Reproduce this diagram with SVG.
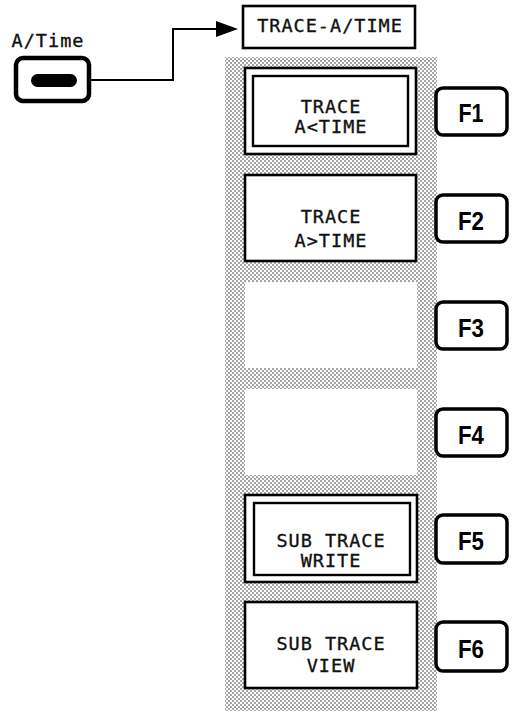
<svg xmlns="http://www.w3.org/2000/svg" width="515" height="721" viewBox="0 0 515 721">
<defs>
<pattern id="dots" width="4" height="4" patternUnits="userSpaceOnUse">
<rect width="4" height="4" fill="#fff"/>
<circle cx="1" cy="1" r="0.8" fill="#333"/>
<circle cx="3" cy="3" r="0.8" fill="#333"/>
</pattern>
<marker id="arr" markerUnits="userSpaceOnUse" markerWidth="22" markerHeight="16" refX="8" refY="8" orient="auto">
<path d="M0,0 L22,8 L0,16 z" fill="#000"/>
</marker>
</defs>
<style>
.mono{font-family:"DejaVu Sans Mono","Liberation Mono",monospace;font-size:18.5px;letter-spacing:1px;fill:#111;stroke:#111;stroke-width:0.35;text-anchor:middle}
.box{fill:#fff;stroke:#000;stroke-width:2.6}
.inner{fill:none;stroke:#000;stroke-width:2.4}
.fbtn{fill:#fff;stroke:#000;stroke-width:3.5}
.fk{font-family:"Liberation Sans",Arial,sans-serif;font-weight:bold;font-size:25px;fill:#000;text-anchor:middle}
.blank{fill:#fff}
</style>

<g id="atime-key">
<text class="mono" x="48" y="47">A/Time</text>
<rect x="16" y="58" width="73" height="43" rx="7" fill="#fff" stroke="#000" stroke-width="4.5"/>
<rect x="31" y="74" width="46" height="13" rx="6.5" fill="#000"/>
</g>

<g id="connectors">
<path d="M89,80 H173 V29 H224" fill="none" stroke="#000" stroke-width="2" marker-end="url(#arr)"/>
</g>

<g id="title">
<rect class="box" x="243" y="6" width="172" height="42"/>
<text class="mono" x="330" y="32">TRACE-A/TIME</text>
</g>

<g id="panel">
<rect x="225" y="57" width="212" height="654" fill="url(#dots)"/>
</g>

<g id="softkey1">
<rect class="box" x="245" y="68" width="171" height="86" stroke-width="3"/>
<rect class="inner" x="253" y="76" width="155" height="70"/>
<text class="mono" x="331" y="113">TRACE</text>
<text class="mono" x="331" y="133">A&lt;TIME</text>
</g>

<g id="softkey2">
<rect class="box" x="245" y="175" width="171" height="86"/>
<text class="mono" x="331" y="223">TRACE</text>
<text class="mono" x="331" y="247">A&gt;TIME</text>
</g>

<g id="softkey3">
<rect class="blank" x="245" y="282" width="172" height="86"/>
</g>

<g id="softkey4">
<rect class="blank" x="245" y="389" width="172" height="86"/>
</g>

<g id="softkey5">
<rect class="box" x="245" y="495" width="172" height="87" stroke-width="3"/>
<rect class="inner" x="254" y="503" width="156" height="72"/>
<text class="mono" x="331" y="547">SUB TRACE</text>
<text class="mono" x="331" y="567">WRITE</text>
</g>

<g id="softkey6">
<rect class="box" x="245" y="602" width="172" height="86"/>
<text class="mono" x="331" y="650">SUB TRACE</text>
<text class="mono" x="331" y="672">VIEW</text>
</g>

<g id="F1"><rect class="fbtn" x="436" y="88" width="71" height="47" rx="7"/><text class="fk" x="471" y="122" textLength="25" lengthAdjust="spacingAndGlyphs">F1</text></g>
<g id="F2"><rect class="fbtn" x="436" y="195" width="71" height="47" rx="7"/><text class="fk" x="471" y="230" textLength="26" lengthAdjust="spacingAndGlyphs">F2</text></g>
<g id="F3"><rect class="fbtn" x="436" y="302" width="71" height="47" rx="7"/><text class="fk" x="471" y="337" textLength="26" lengthAdjust="spacingAndGlyphs">F3</text></g>
<g id="F4"><rect class="fbtn" x="436" y="409" width="71" height="47" rx="7"/><text class="fk" x="471" y="444" textLength="26" lengthAdjust="spacingAndGlyphs">F4</text></g>
<g id="F5"><rect class="fbtn" x="436" y="515" width="71" height="48" rx="7"/><text class="fk" x="471" y="550" textLength="26" lengthAdjust="spacingAndGlyphs">F5</text></g>
<g id="F6"><rect class="fbtn" x="436" y="622" width="71" height="49" rx="7"/><text class="fk" x="471" y="658" textLength="26" lengthAdjust="spacingAndGlyphs">F6</text></g>
</svg>
